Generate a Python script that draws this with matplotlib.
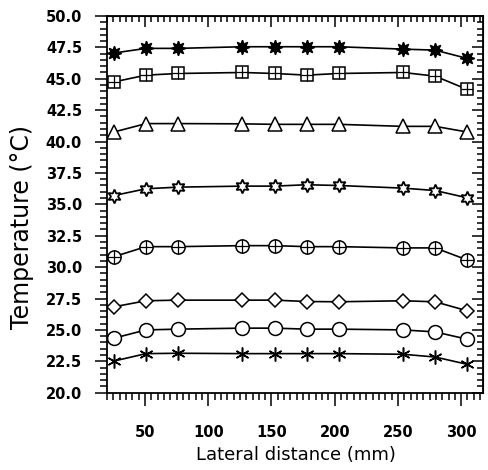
import matplotlib
matplotlib.use("Agg")
import matplotlib.pyplot as plt
from matplotlib.ticker import MultipleLocator, FormatStrFormatter

# lateral positions (mm)
distance = [25.4, 50.8, 76.2, 127.0, 152.4, 177.8, 203.2, 254.0, 279.4, 304.8]

# temperature profiles (top to bottom)
t_star = [47.05, 47.42, 47.42, 47.55, 47.55, 47.55, 47.55, 47.36, 47.28, 46.62]
t_boxplus = [44.75, 45.29, 45.42, 45.50, 45.42, 45.29, 45.42, 45.50, 45.21, 44.15]
t_triangle = [40.76, 41.43, 41.43, 41.41, 41.37, 41.37, 41.37, 41.21, 41.21, 40.76]
t_hexstar = [35.70, 36.24, 36.37, 36.45, 36.45, 36.56, 36.50, 36.29, 36.10, 35.52]
t_circplus = [30.83, 31.63, 31.63, 31.71, 31.71, 31.63, 31.63, 31.53, 31.53, 30.57]
t_diamond = [26.84, 27.32, 27.37, 27.37, 27.37, 27.26, 27.24, 27.32, 27.24, 26.52]
t_circle = [24.34, 25.00, 25.06, 25.14, 25.14, 25.06, 25.06, 25.00, 24.84, 24.26]
t_asterisk = [22.52, 23.11, 23.14, 23.11, 23.11, 23.11, 23.11, 23.06, 22.84, 22.26]

plt.rcParams['font.family'] = ['DejaVu Sans']

fig = plt.figure(figsize=(4.89, 4.70), dpi=100)
ax = fig.add_axes([0.219, 0.1645, 0.768, 0.8015])

lw = 1.2
k = 'black'

def line(y, **kw):
    ax.plot(distance, y, color=k, lw=lw, mec=k, **kw)

def overlay(y, marker, ms, mew=0.9):
    ax.plot(distance, y, ls='none', marker=marker, ms=ms, mec=k, mew=mew)

line(t_star, marker=(8, 1, 0), ms=10.5, mfc=k, mew=1.0)
line(t_boxplus, marker='s', ms=8.5, mfc='white', mew=1.1)
overlay(t_boxplus, '+', 8.5)
line(t_triangle, marker='^', ms=9.5, mfc='white', mew=1.1)
line(t_hexstar, marker=(6, 1, 0), ms=10, mfc='white', mew=1.3)
line(t_circplus, marker='o', ms=9.5, mfc='white', mew=1.1)
overlay(t_circplus, '+', 9.5)
line(t_diamond, marker='D', ms=7.5, mfc='white', mew=1.1)
line(t_circle, marker='o', ms=10, mfc='white', mew=1.1)
line(t_asterisk, marker=(6, 2, 0), ms=10, mfc='white', mew=1.1)

ax.set_xlim(20, 317)
ax.set_ylim(20, 50)

ax.xaxis.set_major_locator(MultipleLocator(50))
ax.xaxis.set_minor_locator(MultipleLocator(5))
ax.yaxis.set_major_locator(MultipleLocator(2.5))
ax.yaxis.set_minor_locator(MultipleLocator(0.5))
ax.yaxis.set_major_formatter(FormatStrFormatter('%.1f'))
ax.set_xticks([50, 100, 150, 200, 250, 300])

ax.tick_params(which='both', direction='out', top=False, right=False, width=1.1)
ax.tick_params(which='major', length=9)
ax.tick_params(which='minor', length=5)
ax.tick_params(axis='x', which='major', pad=14)
ax.tick_params(axis='y', which='major', pad=9)
for lab in ax.get_xticklabels() + ax.get_yticklabels():
    lab.set_fontsize(10.5)
    lab.set_fontweight('bold')

# inward ticks on top and right
top = ax.secondary_xaxis('top')
top.xaxis.set_major_locator(MultipleLocator(50))
top.xaxis.set_minor_locator(MultipleLocator(5))
top.tick_params(which='both', direction='in', labeltop=False, width=1.1)
top.tick_params(which='major', length=8)
top.tick_params(which='minor', length=4)
right = ax.secondary_yaxis('right')
right.yaxis.set_major_locator(MultipleLocator(2.5))
right.yaxis.set_minor_locator(MultipleLocator(0.5))
right.tick_params(which='both', direction='in', labelright=False, width=1.1)
right.tick_params(which='major', length=8)
right.tick_params(which='minor', length=4)

for s in ax.spines.values():
    s.set_linewidth(1.3)

ax.set_xlabel('Lateral distance (mm)', fontsize=13)
ax.set_ylabel('Temperature (\u00b0C)', fontsize=17)
ax.xaxis.set_label_coords(0.503, -0.142)
ax.yaxis.set_label_coords(-0.195, 0.4385)

fig.savefig('out.png', dpi=100)
